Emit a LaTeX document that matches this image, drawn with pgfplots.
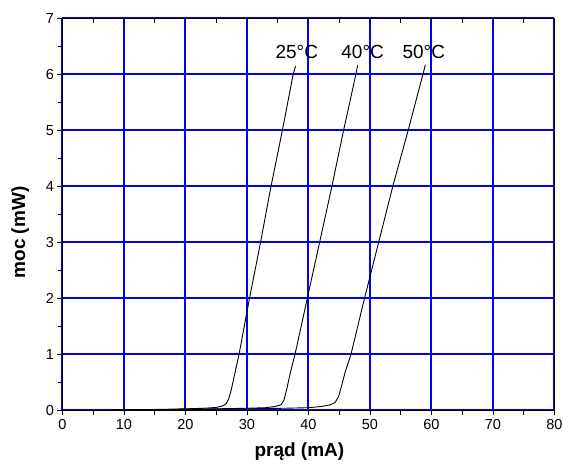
\documentclass[border=0pt]{standalone}
\usepackage{pgfplots}
\pgfplotsset{compat=1.18}
\usepackage{fontspec}
\setmainfont{Liberation Sans}

\definecolor{gridblue}{RGB}{0,0,255}

\pgfplotsset{
  frame/.style={
    scale only axis,
    width=492pt, height=392pt,
    xmin=0, xmax=80, ymin=0, ymax=7,
    xtick={0,10,...,80}, ytick={0,1,...,7},
    minor x tick num=1, minor y tick num=1,
    major tick length=5pt, minor tick length=4.5pt,
    axis line style={line width=1.1pt},
    tick style={black, line width=0.9pt},
  },
}

\begin{document}
\begin{tikzpicture}
\path[use as bounding box] (-62.5pt,-54.5pt) rectangle (500.5pt,410.5pt);

\begin{axis}[
  frame,
  xtick pos=lower, ytick pos=left,
  tick align=outside,
  xmajorgrids=true, ymajorgrids=true,
  major grid style={gridblue, line width=2pt},
  ticklabel style={font=\fontsize{14.5}{16}\selectfont},
  /pgf/number format/assume math mode=true,
  xlabel={prąd (mA)}, ylabel={moc (mW)},
  label style={font=\fontsize{19}{22}\selectfont\bfseries},
  xlabel style={at={(axis description cs:0.4815,-0.106)}, anchor=center},
  ylabel style={at={(axis description cs:-0.086,0.454)}, anchor=center},
]
% 25 C
\addplot[black, line width=0.9pt] coordinates {
  (8,0.01) (12,0.015) (16,0.02) (20,0.03) (23,0.04) (25,0.055)
  (26,0.08) (26.6,0.12) (27.0,0.2) (27.4,0.35) (27.9,0.6) (28.7,1.0)
  (30.4,2) (32.2,3) (33.9,4) (35.75,5) (37.5,6) (37.9,6.15)
};
% 40 C
\addplot[black, line width=0.9pt] coordinates {
  (8,0.01) (15,0.015) (20,0.02) (25,0.03) (30,0.04) (33,0.05)
  (34.5,0.07) (35.5,0.1) (36.0,0.18) (36.5,0.4) (37.0,0.65) (37.8,1.0)
  (39.8,2) (41.8,3) (43.8,4) (45.7,5) (47.7,6) (48.0,6.17)
};
% 50 C
\addplot[black, line width=0.9pt] coordinates {
  (8,0.01) (20,0.02) (30,0.03) (36,0.04) (40,0.05) (42,0.07)
  (43.5,0.1) (44.3,0.14) (44.9,0.25) (45.4,0.45) (46,0.7) (46.9,1.0)
  (49.1,2) (51.4,3) (53.7,4) (56.2,5) (58.6,6) (59.0,6.17)
};
\node[font=\fontsize{19}{22}\selectfont] at (axis cs:38.1,6.41) {25°C};
\node[font=\fontsize{19}{22}\selectfont] at (axis cs:48.8,6.41) {40°C};
\node[font=\fontsize{19}{22}\selectfont] at (axis cs:58.75,6.41) {50°C};
\end{axis}

% top axis: ticks pointing inward, no labels
\begin{axis}[
  frame,
  hide y axis,
  xtick pos=upper,
  tick align=inside,
  xticklabels={},
]
\end{axis}
\end{tikzpicture}
\end{document}
